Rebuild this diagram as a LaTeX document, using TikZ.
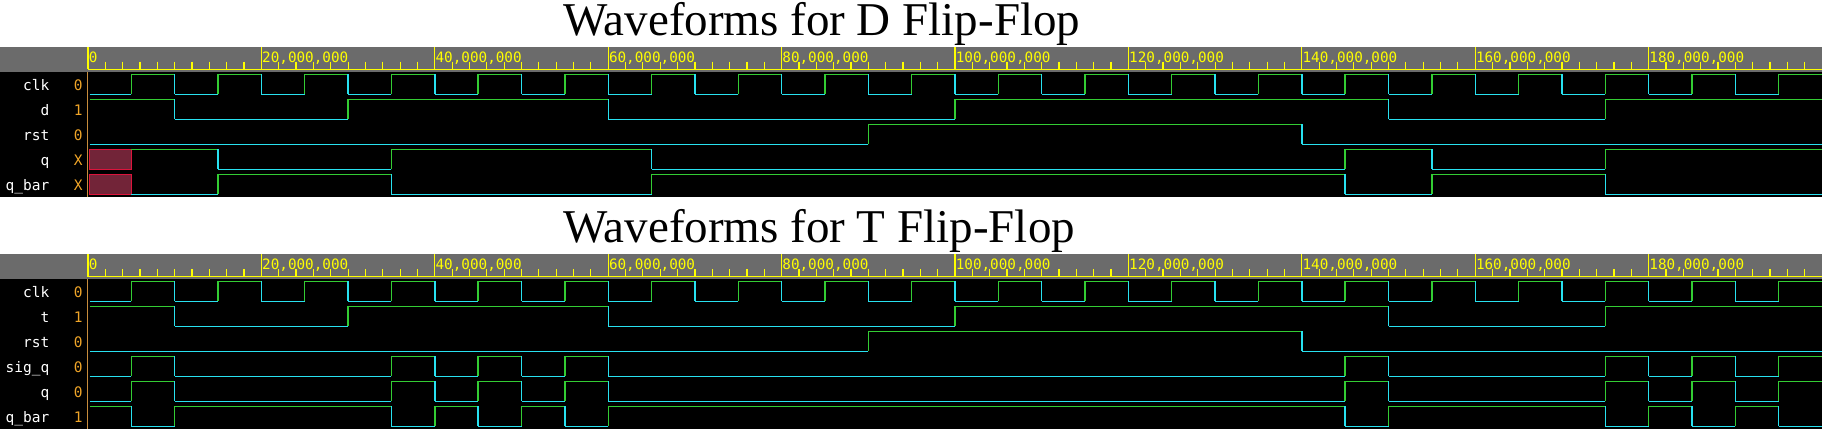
\documentclass[tikz,border=0pt]{standalone}
\usepackage{fontspec}
\setmainfont{Liberation Serif}
\newfontfamily\wmono{DejaVu Sans Mono}
\definecolor{bandgray}{RGB}{107,107,107}
\definecolor{ryellow}{RGB}{255,255,0}
\definecolor{wgreen}{RGB}{51,204,51}
\definecolor{wcyan}{RGB}{40,225,240}
\definecolor{vorange}{RGB}{240,165,40}
\definecolor{sepor}{RGB}{200,140,60}
\definecolor{xfill}{RGB}{114,36,56}
\definecolor{xedge}{RGB}{220,20,60}
\tikzset{
  wline/.style={line width=1.4pt},
  lab/.style={inner sep=0pt,anchor=base east,text=white,font=\wmono\fontsize{14.5}{16}\selectfont},
  val/.style={inner sep=0pt,anchor=base,text=vorange,font=\wmono\fontsize{14.5}{16}\selectfont},
  rtext/.style={inner sep=0pt,anchor=base west,text=ryellow,font=\wmono\fontsize{14.3}{16}\selectfont},
  ttl/.style={inner sep=0pt,anchor=base west,text=black,font=\fontsize{47}{50}\selectfont},
}
% #1 start time, #2 top y, #3 initial value, #4 transition times
\newcommand\wavesig[4]{%
  \xdef\wvv{#3}\xdef\wvt{#1}%
  \foreach \wvx in {#4,200}{%
    \pgfmathsetmacro\wvya{#2+20*(1-\wvv)}%
    \ifnum\wvv=1 \def\wvcol{wgreen}\else\def\wvcol{wcyan}\fi
    \draw[wline,\wvcol] ({max(89.5,88+8.67*\wvt)},\wvya) -- ({88+8.67*\wvx},\wvya);
    \ifdim\wvx pt<200pt
      \ifnum\wvv=1
        \draw[wline,wcyan] ({88+8.67*\wvx},{#2}) -- ++(0,20);
      \else
        \draw[wline,wgreen] ({88+8.67*\wvx},{#2+20}) -- ++(0,-20);
      \fi
      \pgfmathtruncatemacro\wvn{1-\wvv}\xdef\wvv{\wvn}%
    \fi
    \xdef\wvt{\wvx}%
  }}
% #1 band top, #2 name prefix
\newcommand\wruler[2]{%
  \fill[bandgray] (0,{#1}) rectangle (1822,{#1+25});
  \foreach \k in {0,2,...,198}
    \draw[ryellow,line width=1.2pt] ({88+8.67*\k},{#1+15}) -- ({88+8.67*\k},{#1+22.6});
  \foreach \k/\lab in {0/0,20/{20,000,000},40/{40,000,000},60/{60,000,000},80/{80,000,000},100/{100,000,000},120/{120,000,000},140/{140,000,000},160/{160,000,000},180/{180,000,000}}{%
    \draw[ryellow,line width=1.3pt] ({88+8.67*\k},{#1}) -- ({88+8.67*\k},{#1+22.6});
    \node[rtext] (#2r\k) at ({88.6+8.67*\k},{#1+15.6}) {\lab};
  }
  \draw[ryellow,line width=1.5pt] (88,{#1+22.6}) -- (1822,{#1+22.6});
}
\begin{document}
\begin{tikzpicture}[x=1pt,y=-1pt]
\useasboundingbox (0,0) rectangle (1822,429);
\fill[white] (0,0) rectangle (1822,429);

% ---------- D flip-flop ----------
\node[ttl] (titleD) at (563,35) {Waveforms for D Flip-Flop};
\wruler{46.7}{D}
\fill[black] (0,71.7) rectangle (1822,196.7);
\draw[sepor,line width=1.3pt] (87.7,71.7) -- (87.7,196.7);

\node[lab] (Dn1) at (49.5,90.8) {clk};   \node[val] (Dv1) at (78.3,90.8) {0};
\node[lab] (Dn2) at (49.5,115.8) {d};    \node[val] (Dv2) at (78.3,115.8) {1};
\node[lab] (Dn3) at (49.5,140.8) {rst};  \node[val] (Dv3) at (78.3,140.8) {0};
\node[lab] (Dn4) at (49.5,165.8) {q};    \node[val] (Dv4) at (78.3,165.8) {X};
\node[lab] (Dn5) at (49.5,190.8) {q\_bar};\node[val] (Dv5) at (78.3,190.8) {X};

\wavesig{0}{74.3}{0}{5,10,...,195}
\wavesig{0}{99.3}{1}{10,30,60,100,150,175}
\wavesig{0}{124.3}{0}{90,140}
\filldraw[fill=xfill,draw=xedge,line width=1.3pt] (89.5,149.3) rectangle ({88+8.67*5},169.3);
\filldraw[fill=xfill,draw=xedge,line width=1.3pt] (89.5,174.3) rectangle ({88+8.67*5},194.3);
\wavesig{5}{149.3}{1}{15,35,65,145,155,175}
\wavesig{5}{174.3}{0}{15,35,65,145,155,175}

% ---------- T flip-flop ----------
\node[ttl] (titleT) at (563,242) {Waveforms for T Flip-Flop};
\wruler{254}{T}
\fill[black] (0,279) rectangle (1822,429);
\draw[sepor,line width=1.3pt] (87.7,279) -- (87.7,429);

\node[lab] (Tn1) at (49.5,297.8) {clk};   \node[val] (Tv1) at (78.3,297.8) {0};
\node[lab] (Tn2) at (49.5,322.8) {t};     \node[val] (Tv2) at (78.3,322.8) {1};
\node[lab] (Tn3) at (49.5,347.8) {rst};   \node[val] (Tv3) at (78.3,347.8) {0};
\node[lab] (Tn4) at (49.5,372.8) {sig\_q};\node[val] (Tv4) at (78.3,372.8) {0};
\node[lab] (Tn5) at (49.5,397.8) {q};     \node[val] (Tv5) at (78.3,397.8) {0};
\node[lab] (Tn6) at (49.5,422.8) {q\_bar};\node[val] (Tv6) at (78.3,422.8) {1};

\wavesig{0}{281.3}{0}{5,10,...,195}
\wavesig{0}{306.3}{1}{10,30,60,100,150,175}
\wavesig{0}{331.3}{0}{90,140}
\wavesig{0}{356.3}{0}{5,10,35,40,45,50,55,60,145,150,175,180,185,190,195}
\wavesig{0}{381.3}{0}{5,10,35,40,45,50,55,60,145,150,175,180,185,190,195}
\wavesig{0}{406.3}{1}{5,10,35,40,45,50,55,60,145,150,175,180,185,190,195}
\end{tikzpicture}
\end{document}
